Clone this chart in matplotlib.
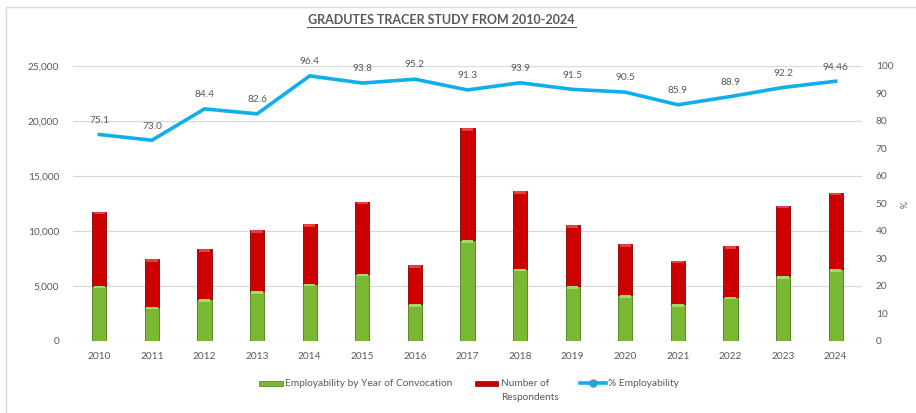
import matplotlib
matplotlib.use("Agg")
import matplotlib.pyplot as plt
from matplotlib.patches import Rectangle
from matplotlib.lines import Line2D
import numpy as np

years = ["2010", "2011", "2012", "2013", "2014", "2015", "2016", "2017",
         "2018", "2019", "2020", "2021", "2022", "2023", "2024"]
employability = [5030, 3120, 3790, 4550, 5210, 6120, 3360, 9180,
                 6580, 5000, 4150, 3360, 4030, 5910, 6520]
respondents = [6730, 4340, 4550, 5550, 5400, 6550, 3550, 10150,
               7030, 5550, 4670, 3940, 4580, 6390, 6970]
pct_employability = [75.1, 73.0, 84.4, 82.6, 96.4, 93.8, 95.2, 91.3,
                     93.9, 91.5, 90.5, 85.9, 88.9, 92.2, 94.46]
pct_labels = ["75.1", "73.0", "84.4", "82.6", "96.4", "93.8", "95.2", "91.3",
              "93.9", "91.5", "90.5", "85.9", "88.9", "92.2", "94.46"]

plt.rcParams['font.family'] = ['Lato', 'DejaVu Sans']
TXT = '#595959'
LINE_C = '#10AEEA'
green = '#78B833'
red = '#CC0000'

fig = plt.figure(figsize=(9.16, 4.13), dpi=100)
W, H = 916, 413


def fx(px):
    return px / W


def fy(py):
    return 1 - py / H


ax = fig.add_axes([fx(73), fy(341), (862 - 73) / W, (341 - 66) / H])

x = np.arange(len(years))
bw = 0.27
ax.bar(x, employability, bw, color=green, edgecolor='#4E7A1E', linewidth=0.6, zorder=3)
ax.bar(x, respondents, bw, bottom=employability, color=red, edgecolor='#8A0000',
       linewidth=0.6, zorder=3)
# bevel highlights at top of each segment
hl = 250
ax.bar(x, [hl] * len(x), bw * 0.8, bottom=np.array(employability) - hl,
       color='#A6D86A', linewidth=0, zorder=4)
ax.bar(x, [hl] * len(x), bw * 0.8,
       bottom=np.array(employability) + np.array(respondents) - hl,
       color='#E84040', linewidth=0, zorder=4)

ax.set_xlim(-0.5, len(years) - 0.5)
ax.set_ylim(0, 25000)
ax.set_yticks(np.arange(0, 25001, 5000))
ax.set_yticklabels([f"{v:,}" for v in range(0, 25001, 5000)])
ax.set_xticks(x)
ax.set_xticklabels(years)
ax.grid(axis='y', color='#D9D9D9', linewidth=0.9, zorder=0)
for s in ax.spines.values():
    s.set_visible(False)
ax.tick_params(axis='both', length=0, labelsize=7.3, colors=TXT, pad=8)
ax.tick_params(axis='y', pad=10)

ax2 = ax.twinx()
ax2.plot(x, pct_employability, color=LINE_C, linewidth=2.6, zorder=5,
         solid_joinstyle='miter')
ax2.set_ylim(0, 100)
ax2.set_yticks(np.arange(0, 101, 10))
for s in ax2.spines.values():
    s.set_visible(False)
ax2.tick_params(axis='y', length=0, labelsize=7.3, colors=TXT, pad=10)
for xi, v, lab in zip(x, pct_employability, pct_labels):
    ax2.annotate(lab, (xi, v), xytext=(0, 7), textcoords='offset points',
                 ha='center', va='bottom', fontsize=7.3, color=TXT)

fig.text(fx(901), fy(205), '%', rotation=-90, ha='center', va='center',
         fontsize=6.5, color=TXT)

fig.text(fx(441), fy(20), 'GRADUTES TRACER STUDY FROM 2010-2024',
         ha='center', va='center', fontsize=9.0, fontweight='bold', color=TXT)
fig.add_artist(Line2D([fx(307), fx(576)], [fy(27), fy(27)], color=TXT, linewidth=0.8))

# chart border
fig.add_artist(Rectangle((fx(6), -0.1), 1.2, fy(7) + 0.1, fill=False,
                         edgecolor='#D9D9D9', linewidth=1.0, transform=fig.transFigure))

# legend (drawn manually to match layout)
fig.add_artist(Rectangle((fx(259), fy(386)), 24 / W, 5 / H, facecolor=green,
                         edgecolor='#4E7A1E', linewidth=0.5, transform=fig.transFigure))
fig.text(fx(285), fy(383), 'Employability by Year of Convocation', ha='left', va='center',
         fontsize=7.3, color=TXT)
fig.add_artist(Rectangle((fx(475), fy(386)), 23 / W, 5 / H, facecolor=red,
                         edgecolor='#8A0000', linewidth=0.5, transform=fig.transFigure))
fig.text(fx(501), fy(383), 'Number of', ha='left', va='center', fontsize=7.3, color=TXT)
fig.text(fx(501), fy(397), 'Respondents', ha='left', va='center', fontsize=7.3, color=TXT)
fig.add_artist(Line2D([fx(580), fx(606)], [fy(383), fy(383)], color=LINE_C, linewidth=2.6))
fig.add_artist(Line2D([fx(593)], [fy(383)], marker='o', markersize=5, linestyle='none',
                      markerfacecolor='#2A9FC9', markeredgecolor='#2A9FC9'))
fig.text(fx(608), fy(383), '% Employability', ha='left', va='center', fontsize=7.3, color=TXT)

fig.savefig('out.png', dpi=100)
